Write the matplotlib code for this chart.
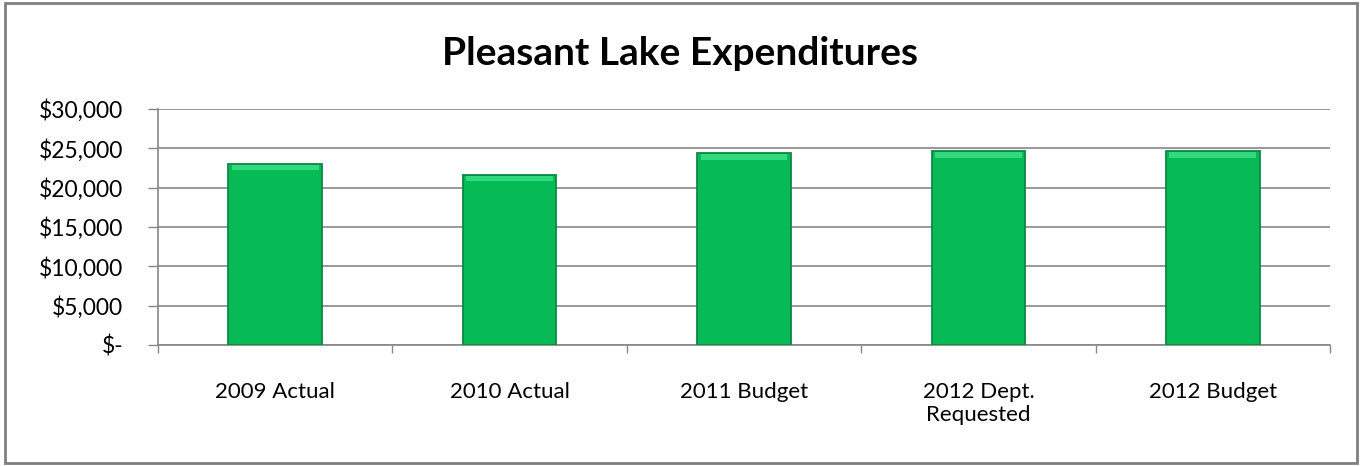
import numpy as np
import matplotlib.pyplot as plt
from matplotlib.patches import Rectangle

# Daten
kategorien = ['2009 Actual', '2010 Actual', '2011 Budget', '2012 Dept.\nRequested', '2012 Budget']
ausgaben = [23000, 21600, 24400, 24600, 24650]
y_ticks = [0, 5000, 10000, 15000, 20000, 25000, 30000]
y_labels = ['$-', '$5,000', '$10,000', '$15,000', '$20,000', '$25,000', '$30,000']

plt.rcParams['font.family'] = ['Lato', 'DejaVu Sans']

fig = plt.figure(figsize=(13.61, 4.66), dpi=100)
ax = fig.add_axes([0.1161, 0.2597, 0.8611, 0.5064])

x = np.arange(len(kategorien))
grau = '#878787'

# Balken
ax.bar(x, ausgaben, width=0.4, color='#06BA56', edgecolor='#0A8A43', linewidth=1.3, zorder=3)
# heller Rand oben (Abschrägung)
ax.bar(x, [v * 0.03 for v in ausgaben], bottom=[v * 0.965 for v in ausgaben], width=0.37,
       color='#33D97F', linewidth=0, zorder=4)

ax.set_xlim(-0.5, len(kategorien) - 0.5)
ax.set_ylim(0, 30000)
ax.set_yticks(y_ticks)
ax.set_yticklabels(y_labels, fontsize=16.5)
ax.set_xticks(x)
ax.set_xticklabels(kategorien, fontsize=16, linespacing=1.15)
ax.set_xticks(np.arange(-0.5, len(kategorien)), minor=True)
ax.tick_params(axis='x', which='major', length=0, pad=27)
ax.tick_params(axis='x', which='minor', length=6, color=grau, width=1)
ax.tick_params(axis='y', length=7, color=grau, width=1, pad=18)
ax.yaxis.grid(True, color=grau, linewidth=1.2, zorder=0)
ax.set_axisbelow(True)

for s in ['top', 'right']:
    ax.spines[s].set_visible(False)
for s in ['left', 'bottom']:
    ax.spines[s].set_color(grau)
    ax.spines[s].set_linewidth(1.2)

fig.text(0.5, 0.885, 'Pleasant Lake Expenditures', ha='center', va='center', fontsize=28, fontweight='bold')

# Rahmen um das Diagramm
fig.patches.append(Rectangle((0.004, 0.006), 0.993, 0.988, transform=fig.transFigure,
                             fill=False, edgecolor='#808080', linewidth=2))

plt.savefig('out.png', dpi=100)
